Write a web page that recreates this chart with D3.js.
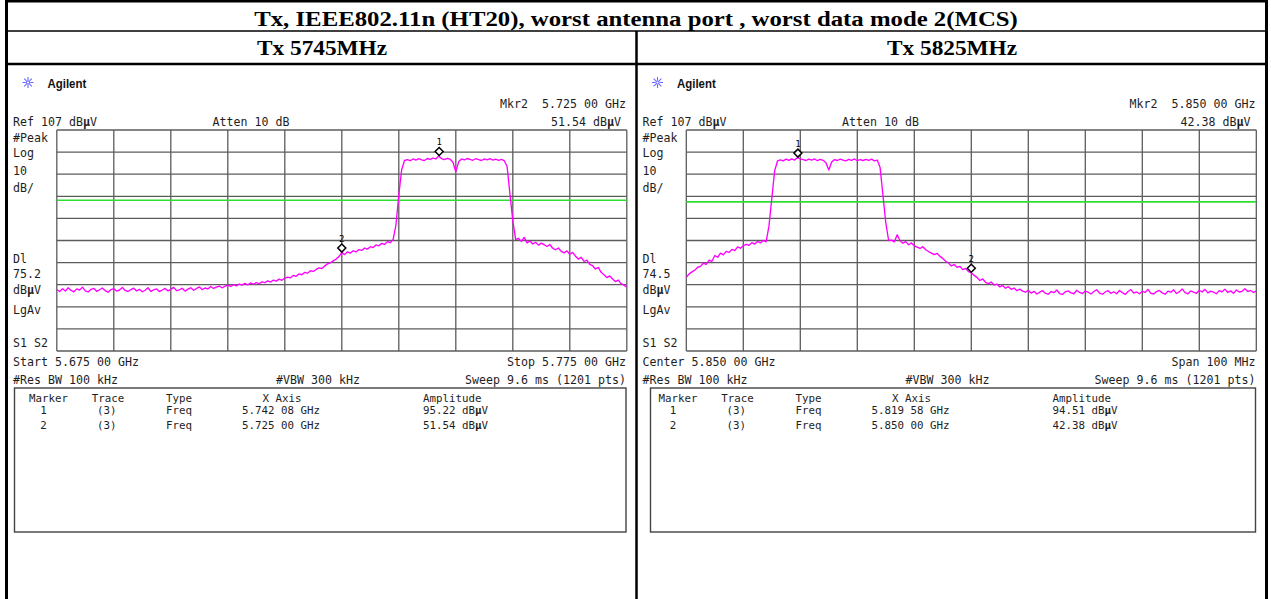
<!DOCTYPE html>
<html><head><meta charset="utf-8">
<script src="https://cdn.jsdelivr.net/npm/d3@7"></script>
<style>body{margin:0;background:#fff}svg{display:block}text{white-space:pre}</style>
</head><body>
<svg id="c" width="1271" height="599"></svg>
<script>
// ---------------- DATA ----------------
const titleText = "Tx, IEEE802.11n (HT20), worst antenna port , worst data mode 2(MCS)";
const panelTitles = ["Tx 5745MHz", "Tx 5825MHz"];
const refLevel = 107;          // dBμV, top of screen
const dbPerDiv = 10;
const startMHz = [5675, 5800];
const stopMHz = [5775, 5900];
const stepMHz = 0.5;
const displayLine = [75.2, 74.5];
const dlLabels = ["75.2", "74.5"];

// trace values in dBμV, one every 0.5 MHz from start to stop
const trace5745 = [
 34.8,33.9,35.2,34.1,35.6,34.4,33.8,35.1,34.6,35.9,34.2,33.7,34.9,35.3,34.0,34.7,35.5,34.3,33.6,34.8,
 35.2,34.1,34.6,35.7,34.4,33.9,34.8,35.4,34.2,34.9,33.8,34.5,35.6,34.0,34.7,35.1,33.9,34.6,35.3,34.2,
 34.9,35.8,34.3,34.7,35.4,34.1,35.0,35.6,34.5,35.2,36.0,34.8,35.5,35.1,36.2,35.3,35.9,36.4,35.6,36.3,36.8,
 36.2,37.0,36.5,37.3,36.8,37.6,36.9,37.8,37.2,38.0,
 37.4,38.3,37.9,38.7,38.2,39.1,38.6,39.5,39.0,40.0,
 40.4,40.1,41.2,40.8,41.9,41.5,42.6,42.2,43.3,43.0,
 43.9,44.6,44.3,45.5,46.4,46.9,47.8,48.6,49.7,51.5,
 50.6,51.9,51.3,52.4,51.8,52.9,52.5,53.6,53.1,54.2,
 53.8,55.0,54.6,55.7,55.2,56.5,56.0,57.4,
 64.0,77.5,89.0,93.2,
 93.6,93.1,93.9,93.4,94.0,93.5,93.2,94.1,93.7,94.3,
 93.9,95.2,94.0,93.6,94.2,93.8,92.4,88.1,92.6,93.9,
 93.5,94.1,93.7,93.3,94.0,93.6,93.2,93.9,93.5,94.0,
 93.4,93.8,93.3,93.7,93.1,
 90.5,78.0,66.0,57.5,
 57.9,56.6,58.4,55.9,56.8,55.4,56.2,54.9,55.8,55.1,
 54.3,55.2,53.5,52.8,53.6,52.1,51.4,52.3,50.8,51.6,
 49.9,48.6,49.4,47.5,48.1,46.2,45.6,44.1,44.8,42.6,
 41.5,40.2,41.0,39.6,38.4,39.1,37.5,36.8,35.9
];
const trace5825 = [
 40.4,41.9,42.8,43.6,44.9,45.3,46.8,46.2,48.1,47.6,
 50.2,49.4,51.3,50.5,52.1,51.6,53.0,52.4,54.1,53.5,
 54.6,55.3,54.8,56.0,55.4,56.6,55.9,57.0,56.4,
 63.5,76.0,88.5,93.0,
 93.5,93.0,93.8,93.3,93.9,93.4,94.5,93.9,93.6,93.2,
 93.8,93.4,93.9,93.1,93.7,93.3,92.2,88.9,92.5,93.6,
 93.2,93.8,93.4,93.0,93.7,93.3,93.9,93.1,93.6,93.2,
 93.7,93.3,93.8,93.0,93.4,
 90.0,77.5,65.0,57.0,
 57.2,56.4,59.6,56.9,55.8,56.5,55.1,55.9,54.6,54.0,
 53.4,54.2,52.8,52.0,51.3,50.6,51.2,49.8,48.9,47.6,
 46.8,45.5,46.1,44.9,45.3,43.8,44.4,42.9,42.4,41.2,
 40.3,38.9,39.6,38.1,37.5,38.2,36.8,37.3,36.0,36.6,
 35.4,36.1,34.9,35.5,34.3,35.0,34.1,33.6,34.4,
 33.2,34.0,32.8,33.6,34.3,33.1,32.7,33.9,33.4,34.6,33.0,32.6,33.8,34.2,33.3,32.9,34.5,33.5,33.0,34.1,
 33.6,32.8,33.9,34.7,33.2,32.7,33.7,34.3,33.1,33.8,32.9,34.4,33.4,32.6,33.9,34.8,33.2,33.7,32.9,34.0,
 33.5,34.9,33.1,32.8,33.9,34.4,33.3,32.7,34.1,33.6,34.7,33.0,33.8,35.1,33.4,32.9,34.2,33.6,33.1,34.5,
 33.7,34.9,33.3,34.1,33.6,32.9,34.3,33.8,35.0,33.5,34.2,33.1,34.6,33.7,34.0,35.2,33.9,34.4,33.5,34.1
];
const traces = [trace5745, trace5825];

const markerNums = ["1", "2"];
const markerFreqMHz = [[5742.08, 5725.00], [5819.58, 5850.00]];
const markerAmp = [[95.22, 51.54], [94.51, 42.38]];
const markerFreqText = [["5.742 08 GHz", "5.725 00 GHz"], ["5.819 58 GHz", "5.850 00 GHz"]];
const markerAmpText = [["95.22 dBμV", "51.54 dBμV"], ["94.51 dBμV", "42.38 dBμV"]];
const mkrReadout = [["Mkr2  5.725 00 GHz", "51.54 dBμV"], ["Mkr2  5.850 00 GHz", "42.38 dBμV"]];
const freqLeftText = ["Start 5.675 00 GHz", "Center 5.850 00 GHz"];
const freqRightText = ["Stop 5.775 00 GHz", "Span 100 MHz"];
const refText = "Ref 107 dBμV";
const attenText = "Atten 10 dB";
const rbwText = "#Res BW 100 kHz";
const vbwText = "#VBW 300 kHz";
const sweepText = "Sweep 9.6 ms (1201 pts)";
const tableHeaders = ["Marker", "Trace", "Type", "X Axis", "Amplitude"];
const traceCol = "(3)";
const typeCol = "Freq";

// ---------------- DRAW ----------------
const svg = d3.select("#c");
const MONO = "'DejaVu Sans Mono', monospace";
const SERIF = "'Liberation Serif', 'Times New Roman', serif";
const INK = "#1e1e1e";

function T(g, x, y, s, o = {}) {
  const sx = o.sx ?? 0.93;
  const t = g.append("text")
    .attr("transform", `translate(${x},${y}) scale(${sx},1)`)
    .attr("text-anchor", o.anchor || "start")
    .style("font-family", o.font || MONO)
    .style("font-size", (o.size || 12.5) + "px")
    .style("font-weight", o.weight || "normal")
    .attr("fill", o.fill || INK);
  const parts = s.split("μ");
  parts.forEach((p, i) => {
    if (i > 0) t.append("tspan").style("font-weight", "bold").text("μ");
    if (p) t.append("tspan").text(p);
  });
  return t;
}

// table frame
const frame = svg.append("g").attr("stroke", "#000").attr("fill", "none");
frame.append("line").attr("x1", 5).attr("x2", 1268).attr("y1", 1.2).attr("y2", 1.2).attr("stroke-width", 2.5);
frame.append("line").attr("x1", 5).attr("x2", 1268).attr("y1", 31).attr("y2", 31).attr("stroke-width", 1.6);
frame.append("line").attr("x1", 5).attr("x2", 1268).attr("y1", 64).attr("y2", 64).attr("stroke-width", 2.5);
frame.append("line").attr("x1", 6.5).attr("x2", 6.5).attr("y1", 0).attr("y2", 599).attr("stroke-width", 3);
frame.append("line").attr("x1", 1266.5).attr("x2", 1266.5).attr("y1", 0).attr("y2", 599).attr("stroke-width", 3);
frame.append("line").attr("x1", 636.5).attr("x2", 636.5).attr("y1", 31).attr("y2", 599).attr("stroke-width", 2.5);

T(svg, 636, 25.5, titleText, { font: SERIF, weight: "bold", size: 21, sx: 1.18, anchor: "middle", fill: "#000" });
[322, 952].forEach((cx, p) => {
  T(svg, cx, 54.5, panelTitles[p], { font: SERIF, weight: "bold", size: 21, sx: 1.11, anchor: "middle", fill: "#000" });
});

const offsets = [0, 629.5];
const boxX = [14.5, 21];
const leftLabels = ["#Peak", "Log", "10", "dB/", "Dl", null, "dBμV", "LgAv", "S1 S2"];
const leftLabelY = [141.7, 156.7, 175, 191.7, 262.7, 278.3, 294, 314, 347.3];

offsets.forEach((ox, p) => {
  const g = svg.append("g").attr("transform", `translate(${ox},0)`);
  const gx0 = 56.8, gx1 = 626.8, gy0 = 130, gy1 = 351;
  const x = d3.scaleLinear().domain([startMHz[p], stopMHz[p]]).range([gx0, gx1]);
  const y = d3.scaleLinear().domain([refLevel - 10 * dbPerDiv, refLevel]).range([gy1, gy0]);

  // Agilent logo
  const star = g.append("g").attr("transform", "translate(28,82.5)").attr("stroke", "#6b6bff").attr("stroke-width", 1.1);
  d3.range(8).forEach(k => {
    const a = k * Math.PI / 4;
    star.append("line").attr("x1", Math.cos(a) * 2.2).attr("y1", Math.sin(a) * 2.2)
      .attr("x2", Math.cos(a) * 5.5).attr("y2", Math.sin(a) * 5.5);
  });
  star.append("circle").attr("r", 1.6).attr("fill", "none");
  T(g, 47.5, 87.5, "Agilent", { font: "'Liberation Sans', Arial, sans-serif", weight: "bold", size: 13, sx: 0.88, fill: "#111" });

  // header texts
  T(g, 626, 107.5, mkrReadout[p][0], { anchor: "end" });
  T(g, 621, 125.5, mkrReadout[p][1], { anchor: "end" });
  T(g, 13, 125.5, refText);
  T(g, 212.5, 125.5, attenText);
  leftLabels.forEach((s, k) => T(g, 13, leftLabelY[k], s === null ? dlLabels[p] : s));
  T(g, 13, 366, freqLeftText[p]);
  T(g, 626, 366, freqRightText[p], { anchor: "end" });
  T(g, 13, 384, rbwText);
  T(g, 276, 384, vbwText);
  T(g, 626, 384, sweepText, { anchor: "end" });

  // grid
  const grid = g.append("g").attr("stroke", "#5c5c5c").attr("stroke-width", 1.3);
  d3.range(11).forEach(k => {
    const fx = x(startMHz[p] + k * (stopMHz[p] - startMHz[p]) / 10);
    grid.append("line").attr("x1", fx).attr("x2", fx).attr("y1", gy0).attr("y2", gy1);
    const fy = y(refLevel - k * dbPerDiv);
    grid.append("line").attr("x1", gx0).attr("x2", gx1).attr("y1", fy).attr("y2", fy);
  });

  // display line
  g.append("line").attr("x1", gx0).attr("x2", gx1).attr("y1", y(displayLine[p])).attr("y2", y(displayLine[p]))
    .attr("stroke", "#2ee02e").attr("stroke-width", 1.6);

  // trace
  const clipId = "clip" + p;
  g.append("clipPath").attr("id", clipId).append("rect").attr("x", gx0).attr("y", gy0).attr("width", gx1 - gx0).attr("height", gy1 - gy0);
  const line = d3.line().x((d, i) => x(startMHz[p] + i * stepMHz)).y(d => y(d));
  g.append("path").attr("d", line(traces[p])).attr("clip-path", `url(#${clipId})`)
    .attr("fill", "none").attr("stroke", "#ff00ff").attr("stroke-width", 1.35).attr("stroke-linejoin", "round");

  // markers
  markerNums.forEach((m, k) => {
    const mx = x(markerFreqMHz[p][k]), my = y(markerAmp[p][k]) - 4.5;
    g.append("path").attr("d", `M${mx},${my - 4}L${mx + 4},${my}L${mx},${my + 4}L${mx - 4},${my}Z`)
      .attr("fill", "#fff").attr("stroke", "#000").attr("stroke-width", 1.5);
    g.append("text").attr("x", mx).attr("y", my - 6.5).attr("text-anchor", "middle")
      .style("font-family", MONO).style("font-size", "9px").attr("fill", "#000").text(m);
  });

  // marker table box
  g.append("rect").attr("x", boxX[p]).attr("y", 388).attr("width", 626 - boxX[p]).attr("height", 144)
    .attr("fill", "none").attr("stroke", "#444").attr("stroke-width", 1.4);
  const tf = { size: 10.8, sx: 1 };
  T(g, 48.5, 401.5, tableHeaders[0], { ...tf, anchor: "middle" });
  T(g, 108, 401.5, tableHeaders[1], { ...tf, anchor: "middle" });
  T(g, 166, 401.5, tableHeaders[2], tf);
  T(g, 282, 401.5, tableHeaders[3], { ...tf, anchor: "middle" });
  T(g, 423, 401.5, tableHeaders[4], tf);
  [414, 429].forEach((by, k) => {
    T(g, 43.5, by, markerNums[k], { ...tf, anchor: "middle" });
    T(g, 97, by, traceCol, tf);
    T(g, 166, by, typeCol, tf);
    T(g, 320, by, markerFreqText[p][k], { ...tf, anchor: "end" });
    T(g, 423, by, markerAmpText[p][k], tf);
  });
});
</script>
</body></html>
